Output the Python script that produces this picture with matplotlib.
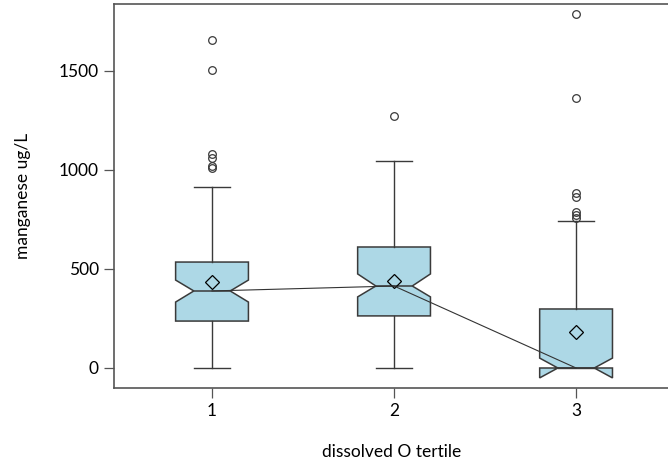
import matplotlib.pyplot as plt

# Manganese by dissolved-oxygen tertile: summary statistics per group
tertiles = [1, 2, 3]
medians = [389, 414, 0]
q1 = [237, 263, 0]
q3 = [535, 611, 298]
notch_lo = [333, 359, -50]
notch_hi = [444, 475, 50]
whisker_lo = [0, 0, 0]
whisker_hi = [914, 1045, 742]
means = [434, 439, 182]
outliers = [
    [1010, 1020, 1060, 1080, 1505, 1657],
    [1273],
    [758, 773, 788, 864, 884, 1364, 1788],
]

stats = []
for i in range(len(tertiles)):
    stats.append(dict(
        label=str(tertiles[i]), med=medians[i], q1=q1[i], q3=q3[i],
        cilo=notch_lo[i], cihi=notch_hi[i],
        whislo=whisker_lo[i], whishi=whisker_hi[i],
        mean=means[i], fliers=outliers[i],
    ))

plt.rcParams['font.family'] = ['Lato', 'DejaVu Sans']

fig = plt.figure(figsize=(6.68, 4.67), dpi=100)
ax = fig.add_axes([114 / 668, 79 / 467, 556 / 668, 384 / 467])

edge = '#3a3a3a'
ax.bxp(stats, positions=tertiles, widths=0.4, shownotches=True,
       showmeans=True, patch_artist=True,
       boxprops=dict(facecolor='#add8e6', edgecolor=edge, linewidth=1.1),
       medianprops=dict(color=edge, linewidth=1.1),
       whiskerprops=dict(color=edge, linewidth=1.0),
       capprops=dict(color=edge, linewidth=1.0),
       flierprops=dict(marker='o', markersize=5.5, markerfacecolor='none',
                       markeredgecolor=edge, markeredgewidth=0.9),
       meanprops=dict(marker='D', markersize=7, markerfacecolor='none',
                      markeredgecolor='black', markeredgewidth=0.9))

# line joining the group medians
ax.plot(tertiles, medians, color='#333333', linewidth=0.8, zorder=5)

ax.set_xlim(0.4615, 3.516)
ax.set_ylim(-101, 1838)
ax.set_yticks([0, 500, 1000, 1500])
ax.set_xticks(tertiles)
ax.set_xticklabels([str(t) for t in tertiles])

for side in ['left', 'bottom', 'top', 'right']:
    ax.spines[side].set_color('#555555')
    ax.spines[side].set_linewidth(1.2)

ax.tick_params(axis='both', direction='out', length=7, width=0.9,
               color='#555555', labelsize=12.5, pad=4)
ax.set_xlabel('dissolved O tertile', fontsize=12.5, labelpad=18)
ax.set_ylabel('manganese ug/L', fontsize=12.5, labelpad=20)

fig.savefig('out.png', dpi=100)
